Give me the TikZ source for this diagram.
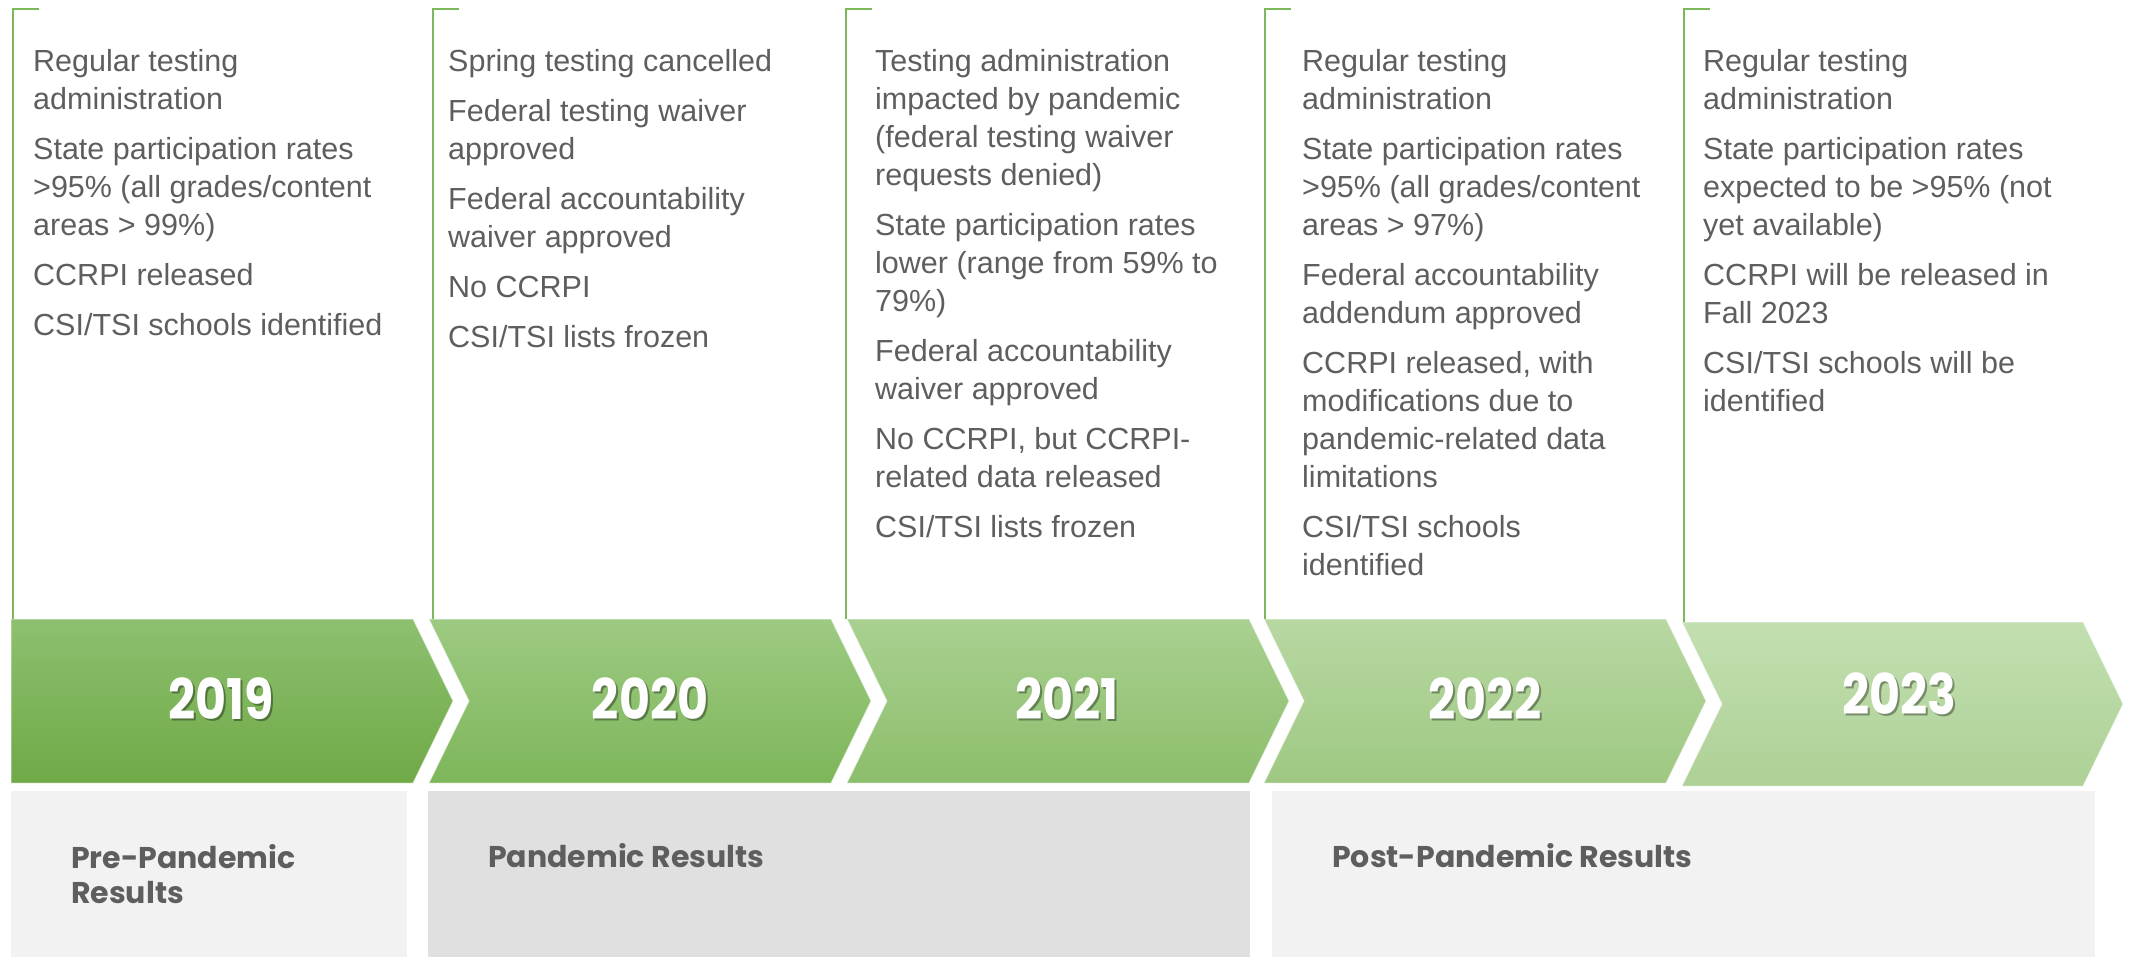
\documentclass[tikz,border=0pt]{standalone}
\usepackage{graphicx}
\usepackage{fontspec}
\setmainfont{Liberation Sans}
\newfontfamily\gothic{Poppins}
\definecolor{txt}{HTML}{5E5E5E}
\definecolor{brk}{HTML}{7DB95A}
\definecolor{c1t}{HTML}{8DC070}\definecolor{c1b}{HTML}{70A946}
\definecolor{c2t}{HTML}{9DCA82}\definecolor{c2b}{HTML}{7EB65A}
\definecolor{c3t}{HTML}{A9D090}\definecolor{c3b}{HTML}{8CBE6C}
\definecolor{c4t}{HTML}{B8D8A2}\definecolor{c4b}{HTML}{9EC882}
\definecolor{c5t}{HTML}{C3DFB0}\definecolor{c5b}{HTML}{ADD196}
\definecolor{gl}{HTML}{F2F2F2}
\definecolor{gd}{HTML}{E0E0E0}
\newcommand\colbox[1]{\parbox[t]{420pt}{\raggedright #1}}
\newcommand\yr[1]{\scalebox{0.95}[1.12]{#1}}
\begin{document}
\begin{tikzpicture}[x=1pt,y=-1pt,
  items/.style={anchor=base west, inner sep=0pt, text=txt, font=\fontsize{30.5}{38}\selectfont},
  year/.style={inner sep=0pt, text=white, font=\gothic\bfseries\fontsize{50}{50}\selectfont},
  yearshadow/.style={inner sep=0pt, text=black, opacity=0.35, font=\gothic\bfseries\fontsize{50}{50}\selectfont},
  grp/.style={anchor=base west, inner sep=0pt, text=txt, font=\gothic\bfseries\fontsize{30}{35}\selectfont, align=left},
  bracket/.style={draw=brk, line width=2pt},
  chev/.style={draw=white, draw opacity=0.45, line width=1pt}]
\useasboundingbox (0,0) rectangle (2131,957);

% chevrons
\shade[chev, top color=c1t, bottom color=c1b] (11,619) -- (413,619) -- (453,701) -- (413,783) -- (11,783) -- cycle;
\shade[chev, top color=c2t, bottom color=c2b] (429,619) -- (831,619) -- (871,701) -- (831,783) -- (429,783) -- (469,701) -- cycle;
\shade[chev, top color=c3t, bottom color=c3b] (847,619) -- (1249,619) -- (1289,701) -- (1249,783) -- (847,783) -- (887,701) -- cycle;
\shade[chev, top color=c4t, bottom color=c4b] (1264,619) -- (1666,619) -- (1706,701) -- (1666,783) -- (1264,783) -- (1304,701) -- cycle;
\shade[chev, top color=c5t, bottom color=c5b] (1682,622) -- (2083,622) -- (2123,704) -- (2083,786) -- (1682,786) -- (1722,704) -- cycle;

% years
\node[yearshadow] (y1s) at (223,701) {\yr{2019}};
\node[year] (y1) at (221,699) {\yr{2019}};
\node[yearshadow] (y2s) at (652,701) {\yr{2020}};
\node[year] (y2) at (650,699) {\yr{2020}};
\node[yearshadow] (y3s) at (1069,701) {\yr{2021}};
\node[year] (y3) at (1067,699) {\yr{2021}};
\node[yearshadow] (y4s) at (1487,701) {\yr{2022}};
\node[year] (y4) at (1485,699) {\yr{2022}};
\node[yearshadow] (y5s) at (1901,696) {\yr{2023}};
\node[year] (y5) at (1899,694) {\yr{2023}};

% gray period boxes
\fill[gl] (11,791) rectangle (407,957);
\fill[gd] (428,791) rectangle (1250,957);
\fill[gl] (1272,791) rectangle (2095,957);
\node[grp] (g1) at (71,903) {Pre-Pandemic\\Results};
\node[grp] (g2) at (488,867) {Pandemic Results};
\node[grp] (g3) at (1332,867) {Post-Pandemic Results};

% brackets
\draw[bracket] (39,9) -- (13,9) -- (13,619);
\draw[bracket] (459,9) -- (433,9) -- (433,619);
\draw[bracket] (872,9) -- (846,9) -- (846,619);
\draw[bracket] (1291,9) -- (1265,9) -- (1265,619);
\draw[bracket] (1710,9) -- (1684,9) -- (1684,622);

% texts
\node[items] (t1) at (33,72) {\colbox{Regular testing\\administration\\[12pt]
State participation rates\\>95\% (all grades/content\\areas > 99\%)\\[12pt]
CCRPI released\\[12pt]
CSI/TSI schools identified}};
\node[items] (t2) at (448,72) {\colbox{Spring testing cancelled\\[12pt]
Federal testing waiver\\approved\\[12pt]
Federal accountability\\waiver approved\\[12pt]
No CCRPI\\[12pt]
CSI/TSI lists frozen}};
\node[items] (t3) at (875,72) {\colbox{Testing administration\\impacted by pandemic\\(federal testing waiver\\requests denied)\\[12pt]
State participation rates\\lower (range from 59\% to\\79\%)\\[12pt]
Federal accountability\\waiver approved\\[12pt]
No CCRPI, but CCRPI-\\related data released\\[12pt]
CSI/TSI lists frozen}};
\node[items] (t4) at (1302,72) {\colbox{Regular testing\\administration\\[12pt]
State participation rates\\>95\% (all grades/content\\areas > 97\%)\\[12pt]
Federal accountability\\addendum approved\\[12pt]
CCRPI released, with\\modifications due to\\pandemic-related data\\limitations\\[12pt]
CSI/TSI schools\\identified}};
\node[items] (t5) at (1703,72) {\colbox{Regular testing\\administration\\[12pt]
State participation rates\\expected to be >95\% (not\\yet available)\\[12pt]
CCRPI will be released in\\Fall 2023\\[12pt]
CSI/TSI schools will be\\identified}};
\end{tikzpicture}
\end{document}
